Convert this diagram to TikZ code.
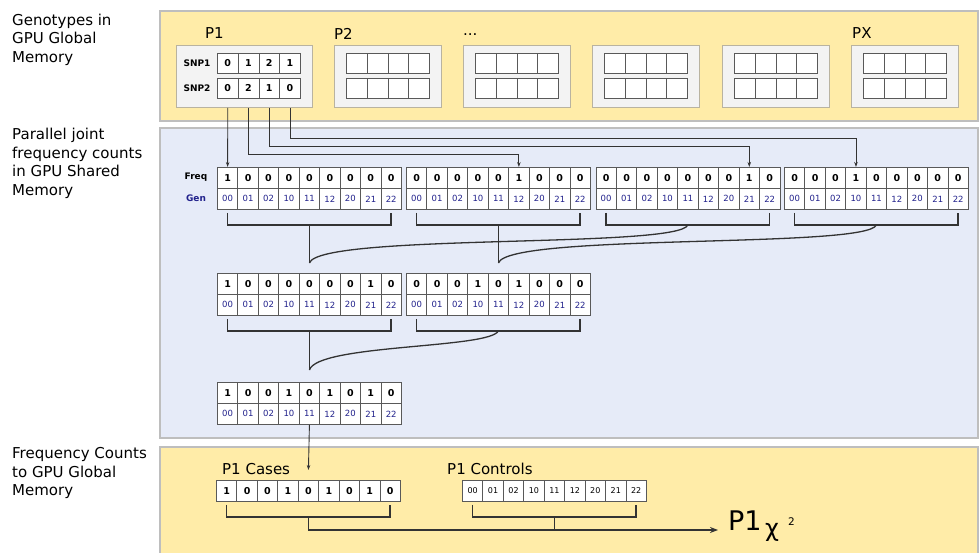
\documentclass[tikz,border=0pt]{standalone}
\usepackage{fontspec}
\setmainfont{DejaVu Sans}
\usetikzlibrary{arrows.meta}

\definecolor{globalfill}{HTML}{FFECA8}
\definecolor{sharedfill}{HTML}{E6EBF8}
\definecolor{regionedge}{HTML}{BEBEBE}
\definecolor{panelfill}{HTML}{F3F3F3}
\definecolor{paneledge}{HTML}{B9B3A0}
\definecolor{gentext}{HTML}{22228C}
\definecolor{inkgrey}{HTML}{333333}

\tikzset{
  region/.style={draw=regionedge, line width=1.5pt},
  panel/.style={draw=paneledge, fill=panelfill, line width=1pt, anchor=north west, inner sep=0pt},
  slot/.style={draw=black!65, fill=white, line width=0.8pt, minimum width=20.45pt, minimum height=21pt, inner sep=0pt, anchor=north west},
  freqcell/.style={slot, font=\fontsize{9.5}{9.5}\selectfont\bfseries},
  gencell/.style={slot, text=gentext, font=\fontsize{8.5}{8.5}\selectfont},
  ctrlcell/.style={slot, font=\fontsize{8}{8}\selectfont},
  snpcell/.style={slot, minimum width=20.75pt, minimum height=20pt, font=\fontsize{9.5}{9.5}\selectfont\bfseries},
  sidelabel/.style={anchor=north west, inner sep=0pt, align=left, font=\fontsize{15}{18.5}\selectfont},
  toplabel/.style={anchor=base west, inner sep=0pt, font=\fontsize{15}{15}\selectfont},
  rowlabel/.style={inner sep=0pt, font=\fontsize{9}{9}\selectfont\bfseries},
  feed/.style={draw=inkgrey, line width=0.9pt, -{Stealth[length=5pt,width=3.5pt]}},
  bracket/.style={draw=inkgrey, line width=1.5pt},
  merge/.style={draw=inkgrey, line width=1.3pt},
}

% one joint count array: name, left x, top y, counts
\newcommand{\countarray}[4]{%
  \foreach \v [count=\i] in {#4} {
    \pgfmathtruncatemacro\ga{(\i-1)/3}
    \pgfmathtruncatemacro\gb{mod(\i-1,3)}
    \node[freqcell] (#1-f\i) at ({#2+(\i-1)*20.45}, #3) {\v};
    \node[gencell] (#1-g\i) at ({#2+(\i-1)*20.45}, #3+21) {\ga\gb};
  }
}
\newcommand{\sumbracket}[1]{%
  \draw[bracket] ([yshift=-3pt]#11.south) -- ++(0,12) -| ([yshift=-3pt]#19.south);
}

\begin{document}
\begin{tikzpicture}[x=1pt, y=-1pt]
\useasboundingbox (0,0) rectangle (980,553);

\draw[region, fill=globalfill] (160,11) rectangle (978,121);
\draw[region, fill=sharedfill] (160,128) rectangle (978,438);
\draw[region, fill=globalfill] (160,447) rectangle (978,575);

\node[sidelabel] (globaltop) at (12,13.5) {Genotypes in\\GPU Global\\Memory};
\node[sidelabel] (sharedmem) at (12,128) {Parallel joint\\frequency counts\\in GPU Shared\\Memory};
\node[sidelabel] (globalbot) at (12,447.5) {Frequency Counts\\to GPU Global\\Memory};

% genotype panels
\node[panel, minimum width=136pt, minimum height=62pt] (p1box) at (176,45) {};
\node[toplabel] (p1name) at (205,39) {P1};
\node[rowlabel] (snp1name) at (197,63) {SNP1};
\node[rowlabel] (snp2name) at (197,88) {SNP2};
\foreach \v [count=\i] in {0,1,2,1}
  \node[snpcell] (snp1-\i) at ({217+(\i-1)*20.75},53) {\v};
\foreach \v [count=\i] in {0,2,1,0}
  \node[snpcell] (snp2-\i) at ({217+(\i-1)*20.75},78) {\v};

\foreach \px [count=\k] in {334,463,592,722,851} {
  \node[panel, minimum width=107pt, minimum height=62pt] (pbox\k) at (\px,45) {};
  \foreach \j in {1,...,4} {
    \node[snpcell] (pbox\k-a\j) at ({\px+12+(\j-1)*20.75},53) {};
    \node[snpcell] (pbox\k-b\j) at ({\px+12+(\j-1)*20.75},78) {};
  }
}
\node[toplabel] (p2name) at (334,40) {P2};
\node[toplabel] (dotsname) at (463,36) {...};
\node[toplabel] (pxname) at (852,39) {PX};

% shared memory counts
\node[rowlabel] (freqname) at (196,177.5) {Freq};
\node[rowlabel, text=gentext] (genname) at (196,198.5) {Gen};
\countarray{r1a}{217}{167}{1,0,0,0,0,0,0,0,0}
\countarray{r1b}{406}{167}{0,0,0,0,0,1,0,0,0}
\countarray{r1c}{595.5}{167}{0,0,0,0,0,0,0,1,0}
\countarray{r1d}{784}{167}{0,0,0,1,0,0,0,0,0}
\countarray{r2a}{217}{273}{1,0,0,0,0,0,0,1,0}
\countarray{r2b}{406}{273}{0,0,0,1,0,1,0,0,0}
\countarray{r3}{217}{382}{1,0,0,1,0,1,0,1,0}

\draw[feed] (p1box.south -| snp2-1) -- (r1a-f1.north);
\draw[feed] (p1box.south -| snp2-2) -- ++(0,46) -| (r1b-f6.north);
\draw[feed] (p1box.south -| snp2-3) -- ++(0,38) -| (r1c-f8.north);
\draw[feed] (p1box.south -| snp2-4) -- ++(0,30) -| (r1d-f4.north);

\sumbracket{r1a-g}
\sumbracket{r1b-g}
\sumbracket{r1c-g}
\sumbracket{r1d-g}
\sumbracket{r2a-g}
\sumbracket{r2b-g}

\coordinate (join1) at ([yshift=10pt]r2a-f5.north);
\coordinate (join2) at ([yshift=10pt]r2b-f5.north);
\coordinate (join3) at ([yshift=12pt]r3-f5.north);
\draw[merge] ([yshift=-15pt]r1a-g5.south) -- (join1);
\draw[merge] ([yshift=-15pt]r1c-g5.south) .. controls +(-8,24) and +(10,-30) .. (join1);
\draw[merge] ([yshift=-15pt]r1b-g5.south) -- (join2);
\draw[merge] ([yshift=-15pt]r1d-g5.south) .. controls +(-8,24) and +(10,-30) .. (join2);
\draw[merge] ([yshift=-15pt]r2a-g5.south) -- (join3);
\draw[merge] ([yshift=-15pt]r2b-g5.south) .. controls +(-8,18) and +(8,-26) .. (join3);

% back to global memory
\node[toplabel] (casesname) at (222,474) {P1 Cases};
\node[toplabel] (ctrlname) at (447,474) {P1 Controls};
\foreach \v [count=\i] in {1,0,0,1,0,1,0,1,0}
  \node[freqcell] (cases-\i) at ({216+(\i-1)*20.45},480) {\v};
\foreach \v [count=\i] in {00,01,02,10,11,12,20,21,22}
  \node[ctrlcell] (ctrl-\i) at ({462+(\i-1)*20.45},480) {\v};
\draw[feed] (r3-g5.south) -- ([yshift=10pt]cases-5.north);

\node[anchor=base west, inner sep=0pt, font=\fontsize{27}{27}\selectfont] (result) at (728,530) {P1};
\node[anchor=base west, inner sep=0pt, font=\fontsize{24}{24}\selectfont] (chi) at (765,536) {χ};
\node[anchor=base west, inner sep=0pt, font=\fontsize{10.5}{10.5}\selectfont] (square) at (788,525) {2};

\sumbracket{cases-}
\sumbracket{ctrl-}
\draw[bracket, -{Stealth[length=8pt,width=6pt]}] ([yshift=-15pt]cases-5.south) |- ([xshift=-10pt]result.base west);
\draw[bracket] ([yshift=-15pt]ctrl-5.south) -- (ctrl-5.south |- result.base);
\end{tikzpicture}
\end{document}
